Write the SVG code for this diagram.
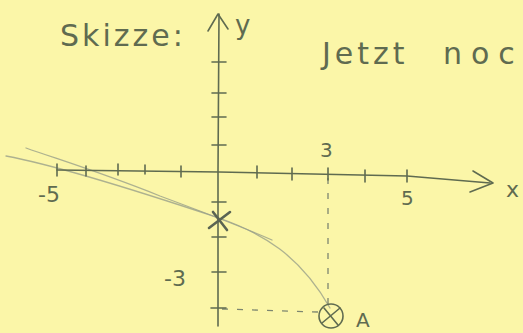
<svg xmlns="http://www.w3.org/2000/svg" width="523" height="333" viewBox="0 0 523 333">
<style>
.ink{fill:none;stroke:#5f6b50;stroke-width:1.6;stroke-linecap:round;stroke-linejoin:round}
.faint{fill:none;stroke:#9aa08a;stroke-width:1.3;stroke-linecap:round;opacity:0.8}
.dash{fill:none;stroke:#7d8670;stroke-width:1.3;stroke-dasharray:6 9}
.t{font-family:"DejaVu Sans",sans-serif;fill:#5f6b50}
</style>
<rect width="523" height="333" fill="#fbf6a8"/>
<!-- curve -->
<path class="faint" d="M6,156 C60,166 150,195 219,218 C262,233 300,255 330,308"/>
<path class="faint" d="M26,148 C60,160 100,172 160,196 C195,209 240,226 272,240"/>
<!-- dashed guides -->
<path class="dash" d="M328,178 L328,304"/>
<path class="dash" d="M222,309 L318,312"/>
<!-- x-axis -->
<path class="ink" d="M57,170 L219,172 L407,176 L490,183"/>
<path class="ink" d="M473,171 L493,183 L470,192"/>
<path class="ink" d="M57,164 V176 M86,166 V176 M118,164 V175 M145,165 V174 M181,166 V177 M257,166 V178 M292,168 V180 M328,168 V180 M365,170 V182 M407,170 V182"/>
<!-- y-axis -->
<path class="ink" d="M219,14 L218,172 L218,326"/>
<path class="ink" d="M208,31 L218,14 L228,29"/>
<path class="ink" d="M212,62 H226 M212,93 H226 M212,117 H226 M212,145 H226 M212,202 H226 M212,237 H226 M212,272 H226 M211,308 H226"/>
<!-- marked points -->
<path d="M209,228 L230,212 M213,212 L227,230" fill="none" stroke="#5a6452" stroke-width="2.6" stroke-linecap="round"/>
<ellipse cx="331" cy="316" rx="12" ry="12" class="ink" stroke-width="2"/>
<path class="ink" d="M322,323 L340,308 M324,308 L338,325"/>
<!-- labels -->
<text class="t" x="60" y="46" font-size="30" letter-spacing="3">Skizze:</text>
<text class="t" x="235" y="34" font-size="26">y</text>
<text class="t" x="322" y="64" font-size="30" letter-spacing="4">Jetzt</text>
<text class="t" x="443" y="64" font-size="30" letter-spacing="9">noc</text>
<text class="t" x="38" y="202" font-size="22">-5</text>
<text class="t" x="320" y="157" font-size="20">3</text>
<text class="t" x="401" y="205" font-size="20">5</text>
<text class="t" x="164" y="286" font-size="22">-3</text>
<text class="t" x="506" y="197" font-size="22">x</text>
<text class="t" x="356" y="327" font-size="20">A</text>
</svg>
